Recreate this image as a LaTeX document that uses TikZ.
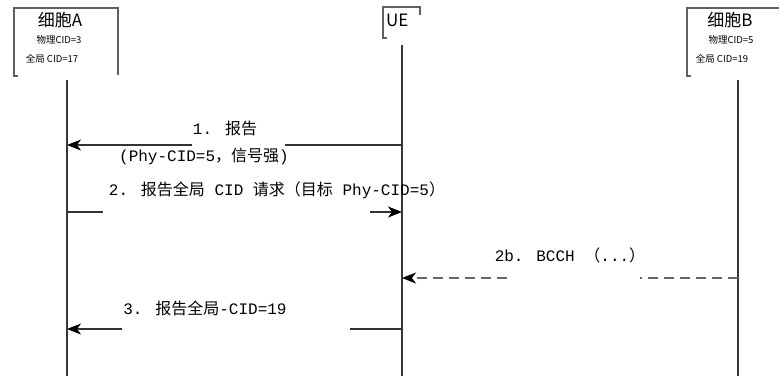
\documentclass[tikz,border=0pt]{standalone}
\usepackage{fontspec}
\setmainfont{Noto Sans CJK SC}
\newfontfamily\mlat{Liberation Mono}
\usetikzlibrary{arrows.meta}
\newcommand{\ml}[1]{{\mlat #1}}
\definecolor{boxgray}{HTML}{606060}
\definecolor{lifegray}{HTML}{383838}
\begin{document}
\begin{tikzpicture}[x=1pt,y=-1pt,
  boxline/.style={draw=boxgray,line width=1.5pt},
  lifeline/.style={draw=lifegray,line width=1.7pt},
  tip/.style={-{Stealth[length=14pt,width=11pt,inset=4pt,color=black,fill=black]}},
  msg/.style={draw=black!80,line width=1.4pt},
  msgtip/.style={msg,tip},
  dmsg/.style={draw=black!60,line width=1.4pt,dash pattern=on 10pt off 6pt},
  dmsgtip/.style={dmsg,tip},
  title/.style={font=\fontsize{17}{20}\selectfont,inner sep=0pt},
  small/.style={font=\fontsize{9.5}{11}\selectfont,inner sep=0pt},
  lbl/.style={font=\fontsize{16}{19}\selectfont,inner sep=0pt}]
\useasboundingbox[fill=white] (0,0) rectangle (780,376);
% header boxes
\draw[boxline] (18,76) -- (14,76) -- (14,8) -- (118,8) -- (118,75);
\draw[boxline] (387,38) -- (383,38) -- (383,7) -- (420,7) -- (420,15);
\draw[boxline] (691,76) -- (687,76) -- (687,8) -- (779,8);
% header texts
\node[title] (cellA) at (60,20) {细胞A};
\node[small] (cellAphy) at (59,40) {物理CID=3};
\node[small] (cellAglob) at (52,59) {全局 CID=17};
\node[title,anchor=west] (ue) at (386,20) {UE};
\node[title] (cellB) at (730,20) {细胞B};
\node[small] (cellBphy) at (731,40) {物理CID=5};
\node[small] (cellBglob) at (722,59) {全局 CID=19};
% lifelines
\coordinate (Atop) at (67,80);   \coordinate (Abot) at (67,376);
\coordinate (Utop) at (402,45);  \coordinate (Ubot) at (402,376);
\coordinate (Btop) at (738,80);  \coordinate (Bbot) at (738,376);
\draw[lifeline] (Atop) -- (Abot);
\draw[lifeline] (Utop) -- (Ubot);
\draw[lifeline] (Btop) -- (Bbot);
% message 1
\coordinate (m1u) at (402,145); \coordinate (m1g1) at (285,145);
\coordinate (m1g2) at (192,145); \coordinate (m1a) at (67,145);
\draw[msg] (m1u) -- (m1g1);
\draw[msgtip] (m1g2) -- (m1a);
\node[lbl] (l1a) at (225,128) {\ml{1. }报告};
\node[lbl] (l1b) at (204,156) {\ml{(Phy-CID=5}，信号强\ml{)}};
% message 2
\coordinate (m2a) at (67,212); \coordinate (m2g1) at (103,212);
\coordinate (m2g2) at (370,212); \coordinate (m2u) at (402,212);
\draw[msg] (m2a) -- (m2g1);
\draw[msgtip] (m2g2) -- (m2u);
\node[lbl] (l2) at (277,190) {\ml{2. }报告全局\ml{ CID }请求（目标\ml{ Phy-CID=5}）};
% message 2b
\coordinate (m2bb) at (738,278); \coordinate (m2bg1) at (640,278);
\coordinate (m2bg2) at (507,278); \coordinate (m2bu) at (402,278);
\draw[dmsg] (m2bb) -- (m2bg1);
\draw[dmsgtip] (m2bg2) -- (m2bu);
\node[lbl] (l2b) at (570,255) {\ml{2b. BCCH }（\ml{...}）};
% message 3
\coordinate (m3u) at (402,329); \coordinate (m3g1) at (350,329);
\coordinate (m3g2) at (122,329); \coordinate (m3a) at (67,329);
\draw[msg] (m3u) -- (m3g1);
\draw[msgtip] (m3g2) -- (m3a);
\node[lbl] (l3) at (205,308) {\ml{3. }报告全局\ml{-CID=19}};
\end{tikzpicture}
\end{document}
